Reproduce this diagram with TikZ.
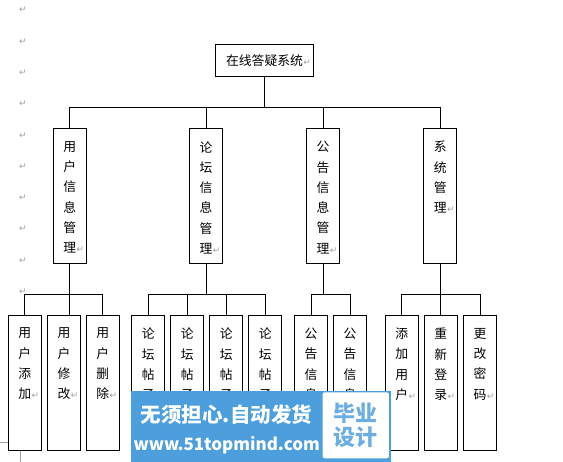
\documentclass[tikz,border=0pt]{standalone}
\usepackage{fontspec}
\newfontfamily\cjk{Noto Sans CJK SC}
\newfontfamily\markfont{DejaVu Sans}

\definecolor{markgray}{HTML}{A0A0A0}
\definecolor{wmblau}{HTML}{4C9EDD}
\definecolor{wmhell}{HTML}{6AAEE3}

\newcommand{\absmark}{\rlap{\hspace{0.5pt}{\markfont\fontsize{9}{9}\selectfont\color{markgray}↵}}}
\newcommand{\spalte}[2]{\parbox[c][#1][t]{33pt}{\centering\vspace*{13pt}#2}}

\tikzset{
  kasten/.style={draw, line width=0.9pt, inner sep=0pt, font=\cjk\fontsize{12.8}{20.3}\selectfont},
  linie/.style={line width=0.9pt},
  zeichen/.style={inner sep=0pt, text=markgray, font=\markfont\fontsize{9}{9}\selectfont},
}

\begin{document}
\begin{tikzpicture}[x=1pt, y=-1pt]
    \useasboundingbox (0,0) rectangle (563,462);

    %Absatzmarken
    \foreach \i in {0,...,9}
        \node[zeichen] (pm\i) at (23, 10+31.3*\i) {↵};

    %Wurzel
    \node[kasten, minimum width=97.6pt, minimum height=32pt] (sys) at (264.5,60.3) {在线答疑系统\absmark};

    %Ebene 2
    \node[kasten] (yhgl) at (69.7,195.8) {\spalte{135pt}{用\\户\\信\\息\\管\\理\absmark}};
    \node[kasten] (ltgl) at (206,195.8) {\spalte{135pt}{论\\坛\\信\\息\\管\\理\absmark}};
    \node[kasten] (gggl) at (323,195.8) {\spalte{135pt}{公\\告\\信\\息\\管\\理\absmark}};
    \node[kasten] (xtgl) at (440.3,195.8) {\spalte{135pt}{系\\统\\管\\理\absmark}};

    %Ebene 3
    \node[kasten] (yhtj) at (24.8,382.7) {\spalte{135.3pt}{用\\户\\添\\加\absmark}};
    \node[kasten] (yhxg) at (64,382.7) {\spalte{135.3pt}{用\\户\\修\\改\absmark}};
    \node[kasten] (yhsc) at (102.8,382.7) {\spalte{135.3pt}{用\\户\\删\\除\absmark}};
    \node[kasten] (lt1) at (148.3,382.7) {\spalte{135.3pt}{论\\坛\\帖\\子}};
    \node[kasten] (lt2) at (187.3,382.7) {\spalte{135.3pt}{论\\坛\\帖\\子}};
    \node[kasten] (lt3) at (226.3,382.7) {\spalte{135.3pt}{论\\坛\\帖\\子}};
    \node[kasten] (lt4) at (265.3,382.7) {\spalte{135.3pt}{论\\坛\\帖\\子}};
    \node[kasten] (gg1) at (311,382.7) {\spalte{135.3pt}{公\\告\\信\\息}};
    \node[kasten] (gg2) at (350,382.7) {\spalte{135.3pt}{公\\告\\信\\息}};
    \node[kasten] (tjyh) at (401.8,382.7) {\spalte{135.3pt}{添\\加\\用\\户\absmark}};
    \node[kasten] (cxdl) at (440.8,382.7) {\spalte{135.3pt}{重\\新\\登\\录\absmark}};
    \node[kasten] (ggmm) at (480,382.7) {\spalte{135.3pt}{更\\改\\密\\码\absmark}};

    %Verbindungen
    \draw[linie] (sys.south) -- ++(0,31) coordinate (bus0);
    \draw[linie] (yhgl.north) |- (bus0) -| (xtgl.north);
    \draw[linie] (ltgl.north) -- (ltgl.north |- bus0);
    \draw[linie] (gggl.north) -- (gggl.north |- bus0);

    \draw[linie] (yhgl.south) -- ++(0,31) coordinate (bus1);
    \draw[linie] (yhtj.north) |- (bus1) -| (yhsc.north);
    \draw[linie] (bus1) -- (bus1 |- yhxg.north);

    \draw[linie] (ltgl.south) -- ++(0,31) coordinate (bus2);
    \draw[linie] (lt1.north) |- (bus2) -| (lt4.north);
    \draw[linie] (lt2.north) -- (lt2.north |- bus2);
    \draw[linie] (lt3.north) -- (lt3.north |- bus2);

    \draw[linie] (gggl.south) -- ++(0,31) coordinate (bus3);
    \draw[linie] (gg1.north) |- (bus3) -| (gg2.north);

    \draw[linie] (xtgl.south) -- ++(0,31) coordinate (bus4);
    \draw[linie] (tjyh.north) |- (bus4) -| (ggmm.north);
    \draw[linie] (bus4) -- (bus4 |- cxdl.north);

    %Seitenecke
    \draw[markgray, line width=0.6pt] (0,442.7) -- (8.3,442.7);
    \draw[markgray, line width=0.6pt] (20.7,450.7) -- (20.7,462);

    %Wasserzeichen
    \fill[wmblau] (131,391) rectangle (390.7,462);
    \node[fill=white, rounded corners=2pt, minimum width=66.3pt, minimum height=66pt, inner sep=0pt,
          align=center, text=wmhell, font=\cjk\bfseries\fontsize{22}{24}\selectfont] (wmr) at (355.8,425.3) {毕业\\设计};
    \node[inner sep=0pt, text=white, font=\cjk\bfseries\fontsize{20.5}{20.5}\selectfont] (wm1) at (226.5,415) {无须担心.自动发货};
    \node[inner sep=0pt, text=white, font=\cjk\bfseries\fontsize{17}{17}\selectfont] (wm2) at (226.7,445) {www.51topmind.com};
\end{tikzpicture}
\end{document}
